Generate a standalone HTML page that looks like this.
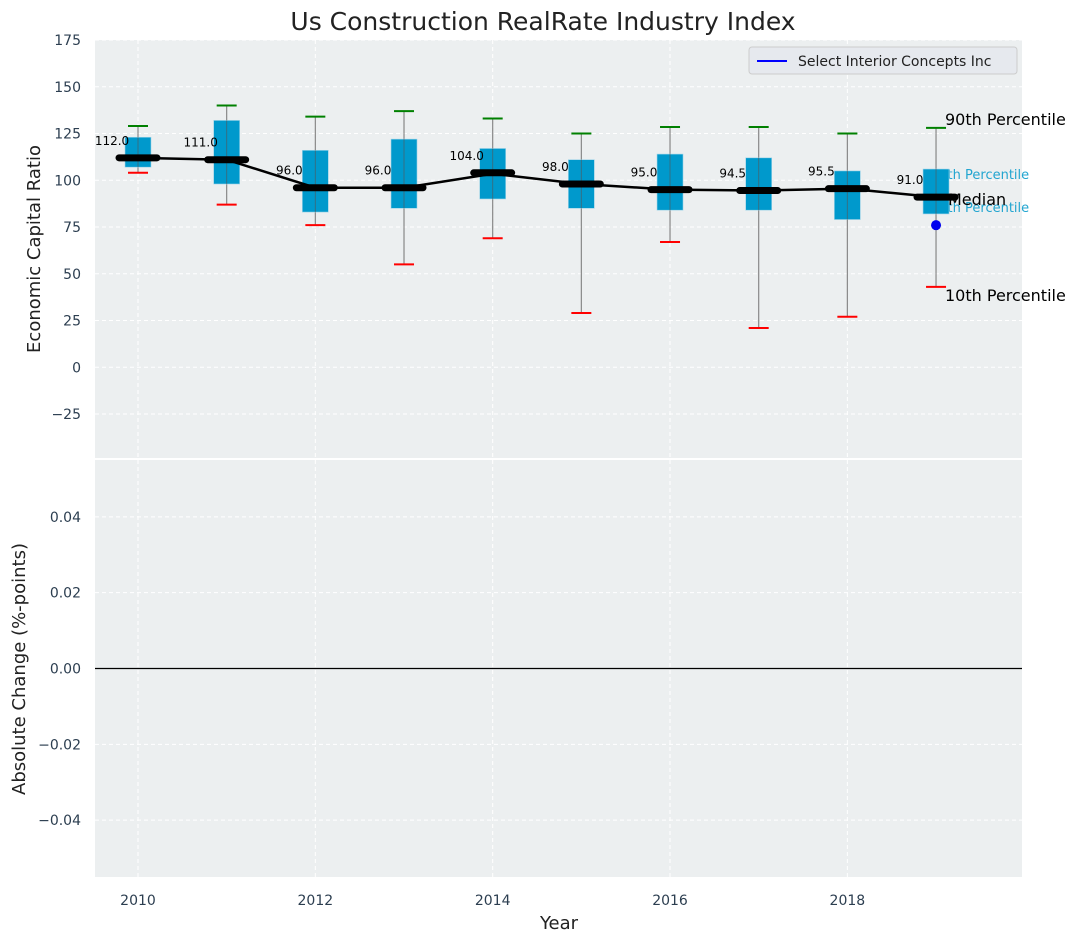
<!DOCTYPE html>
<html><head><meta charset="utf-8"><style>
body{margin:0;background:#fff;font-family:"DejaVu Sans","Liberation Sans",sans-serif}
svg text{font-family:"DejaVu Sans","Liberation Sans",sans-serif}
</style></head><body>
<svg id="c" width="1080" height="942" xmlns="http://www.w3.org/2000/svg"></svg>
<script>
const years=[2010,2011,2012,2013,2014,2015,2016,2017,2018,2019];
const medians=[112,111,96,96,104,98,95,94.5,95.5,91];
const medianLine=[112,111,96,96,103.5,98,95,94.5,95.5,91];
const q1=[107,98,83,85,90,85,84,84,79,82];
const q3=[123,132,116,122,117,111,114,112,105,106];
const p10=[104,87,76,55,69,29,67,21,27,43];
const p90=[129,140,134,137,133,125,128.5,128.5,125,128];
const companyValue=[76];
const yTicksTop=[-25,0,25,50,75,100,125,150,175];
const yTicksBot=[-0.04,-0.02,0,0.02,0.04];
const xTicks=[2010,2012,2014,2016,2018];

const NS="http://www.w3.org/2000/svg";
const svg=document.getElementById('c');
function el(t,a,p){const e=document.createElementNS(NS,t);for(const k in a)e.setAttribute(k,a[k]);(p||svg).appendChild(e);return e;}
const L=95,R=1022,T1=40,B1=458,T2=460,B2=877;
const x=v=>138+(v-2010)*88.67;
const y1=v=>T1+(175-v)/(175+48.5)*(B1-T1);
const y2=v=>T2+(0.055-v)/0.11*(B2-T2);

let r=el('rect',{x:L,y:T1,width:R-L,height:B1-T1,fill:'#ECEFF0'});

r=el('rect',{x:L,y:T2,width:R-L,height:B2-T2,fill:'#ECEFF0'});


xTicks.forEach(t=>{
  el('line',{x1:x(t),x2:x(t),y1:T1,y2:B1,stroke:'#fff','stroke-dasharray':'4,3'});
  el('line',{x1:x(t),x2:x(t),y1:T2,y2:B2,stroke:'#fff','stroke-dasharray':'4,3'});
  const tx=el('text',{x:x(t),y:905,'text-anchor':'middle','font-size':14,fill:'#2c3e50'});tx.textContent=t;
  
});
yTicksTop.forEach(t=>{
  el('line',{x1:L,x2:R,y1:y1(t),y2:y1(t),stroke:'#fff','stroke-dasharray':'4,3'});
  const tx=el('text',{x:81,y:y1(t)+5,'text-anchor':'end','font-size':14,fill:'#2c3e50'});tx.textContent=t<0?'\u2212'+(-t):t;
  
});
yTicksBot.forEach(t=>{
  el('line',{x1:L,x2:R,y1:y2(t),y2:y2(t),stroke:'#fff','stroke-dasharray':'4,3'});
  const s=t.toFixed(2);
  const tx=el('text',{x:81,y:y2(t)+5,'text-anchor':'end','font-size':14,fill:'#2c3e50'});tx.textContent=t<0?'\u2212'+s.slice(1):s;
  
});
el('line',{x1:L,x2:R,y1:y2(0),y2:y2(0),stroke:'#000','stroke-width':1.2});

function lab(s,xx,yy,fs,col,name){const t=el('text',{x:xx,y:yy,'font-size':fs,fill:col});t.textContent=s;return t;}
lab('75th Percentile',931,179,13,'#22a5d0','p75-annotation');
lab('25th Percentile',931,212,13,'#22a5d0','p25-annotation');

years.forEach((yr,i)=>{
  const cx=x(yr);
  const w=el('line',{x1:cx,x2:cx,y1:y1(p90[i]),y2:y1(p10[i]),stroke:'#888','stroke-width':1.2});
  
  const b=el('rect',{x:cx-13,y:y1(q3[i]),width:26,height:y1(q1[i])-y1(q3[i]),fill:'#0099CC',stroke:'#9fd4e8','stroke-width':0.6});
  
  el('line',{x1:cx,x2:cx,y1:y1(q3[i]),y2:y1(q1[i]),stroke:'#555','stroke-width':1,'stroke-opacity':0.6});
  const g=el('line',{x1:cx-10,x2:cx+10,y1:y1(p90[i]),y2:y1(p90[i]),stroke:'green','stroke-width':2});
  
  const rd=el('line',{x1:cx-10,x2:cx+10,y1:y1(p10[i]),y2:y1(p10[i]),stroke:'red','stroke-width':2});
  
});
const pl=el('polyline',{points:years.map((yr,i)=>x(yr)+','+y1(medianLine[i])).join(' '),fill:'none',stroke:'#000','stroke-width':2.5});

years.forEach((yr,i)=>{
  const cx=x(yr),cy=y1(medians[i]);
  const m=el('line',{x1:cx-19,x2:cx+19,y1:cy,y2:cy,stroke:'#000','stroke-width':7,'stroke-linecap':'round'});
  
  const t=el('text',{x:cx-26,y:cy-13,'text-anchor':'middle','font-size':12,fill:'#000'});t.textContent=medians[i].toFixed(1);
  
});
const last=years.length-1,lx=x(years[last]);
const dot=el('circle',{cx:lx,cy:y1(companyValue[0]),r:5,fill:'#0000ee'});

lab('90th Percentile',945,y1(p90[last])-3,16,'#000','p90-annotation');
lab('10th Percentile',945,y1(p10[last])+14,16,'#000','p10-annotation');
lab('Median',948,y1(medians[last])+8,16,'#000','median-annotation');

const lg=el('g',{});
el('rect',{x:749,y:47,width:268,height:27,rx:3,fill:'#E6E9EE',stroke:'#ccc'},lg);
el('line',{x1:757,x2:787,y1:61,y2:61,stroke:'#0000ff','stroke-width':2},lg);
const lt=el('text',{x:798,y:66,'font-size':14,fill:'#222'},lg);lt.textContent='Select Interior Concepts Inc';

lab('Us Construction RealRate Industry Index',543,30,25,'#222','chart-title').setAttribute('text-anchor','middle');
const yt=el('text',{x:40,y:249,'font-size':18,fill:'#222','text-anchor':'middle',transform:'rotate(-90 40 249)'});yt.textContent='Economic Capital Ratio';

const yb=el('text',{x:25,y:669,'font-size':18,fill:'#222','text-anchor':'middle',transform:'rotate(-90 25 669)'});yb.textContent='Absolute Change (%-points)';

const xt=el('text',{x:559,y:929,'font-size':18,fill:'#222','text-anchor':'middle'});xt.textContent='Year';

</script>
</body></html>
